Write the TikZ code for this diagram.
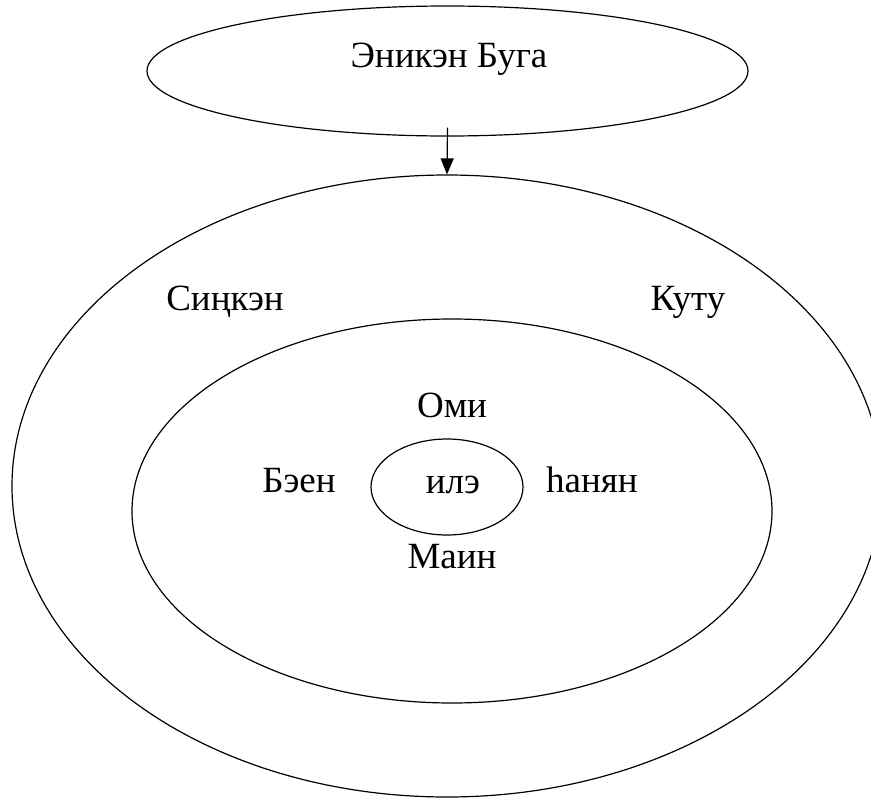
\documentclass[tikz,border=0pt]{standalone}
\usepackage{fontspec}
\setmainfont{Liberation Serif}
\usetikzlibrary{shapes.geometric,arrows.meta}
\begin{document}
\begin{tikzpicture}[x=1pt,y=-1pt,
  ring/.style={draw,ellipse,line width=1.2pt,inner sep=0pt},
  lbl/.style={font=\fontsize{37}{40}\selectfont,anchor=base,inner sep=0pt},
  link/.style={line width=1.2pt,-{Triangle[width=13pt,length=16pt]}}]
\useasboundingbox (0,0) rectangle (871,798);
\clip (0,0) rectangle (871,798);
\node[ring,minimum width=601pt,minimum height=130pt] (top) at (447.5,71) {};
\node[ring,minimum width=870pt,minimum height=622pt] (outer) at (447,486) {};
\node[ring,minimum width=640pt,minimum height=384pt] (middle) at (452,511) {};
\node[ring,minimum width=152pt,minimum height=96pt] (inner) at (447,487) {};
\node[lbl] (t0) at (449,67) {Эникэн Буга};
\node[lbl] (t1) at (225,310) {Сиңкэн};
\node[lbl] (t2) at (688,310) {Куту};
\node[lbl] (t3) at (452,417) {Оми};
\node[lbl] (t4) at (299,492) {Бэен};
\node[lbl] (t5) at (453,493) {илэ};
\node[lbl] (t6) at (592,492) {һанян};
\node[lbl] (t7) at (452,568) {Маин};
\draw[link] ([yshift=9pt]top.south) -- (outer.north);
\end{tikzpicture}
\end{document}
